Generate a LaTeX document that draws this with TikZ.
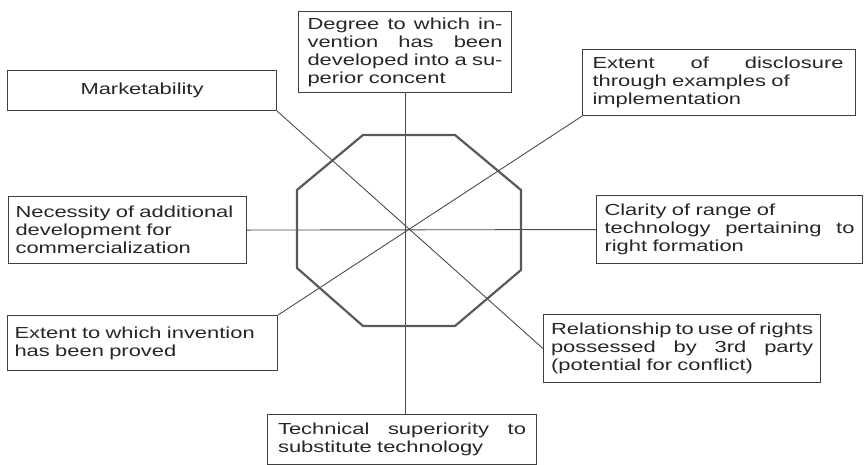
\documentclass[tikz,border=0pt]{standalone}
\usepackage{fontspec}
\newfontfamily\boxfont[FakeStretch=1.37]{Liberation Sans}
\newcommand\J[2]{\leavevmode\hbox to #1{#2}}
\begin{document}
\begin{tikzpicture}[x=1pt,y=-1pt,
  box/.style={draw=black!75, line width=1.1pt, anchor=north west, inner xsep=0pt, inner ysep=0pt,
    align=left, font=\boxfont\fontsize{16}{18}\selectfont, text=black!85},
  conn/.style={draw=black!70, line width=0.9pt},
  octo/.style={draw=black!65, line width=2.2pt, line join=round}]
\useasboundingbox (0,0) rectangle (865,464);
\node[box, minimum width=213pt, minimum height=81pt, text width=195pt] (deg) at (298,11)
  {\J{195pt}{Degree\hfill to\hfill which\hfill in-}\\\J{195pt}{vention\hfill has\hfill been}\\\J{195pt}{developed\hfill into\hfill a\hfill su-}\\perior concent};
\node[box, minimum width=273pt, minimum height=66pt, text width=253pt] (disc) at (582,49)
  {\J{251pt}{Extent\hfill of\hfill disclosure}\\through examples of\\implementation};
\node[box, minimum width=269pt, minimum height=40pt, align=center] (mkt) at (7,70) {Marketability};
\node[box, minimum width=238pt, minimum height=67pt, text width=224pt] (nec) at (8,196)
  {Necessity of additional\\development for\\commercialization};
\node[box, minimum width=266pt, minimum height=68pt, text width=250pt] (cla) at (596,195)
  {Clarity of range of\\\J{250pt}{technology\hfill pertaining\hfill to}\\right formation};
\node[box, minimum width=270pt, minimum height=55pt, text width=256pt] (ext) at (7,315)
  {Extent to which invention\\has been proved};
\node[box, minimum width=277pt, minimum height=68pt, text width=262pt] (rel) at (543,314)
  {\J{262pt}{Relationship\hfill to\hfill use\hfill of\hfill rights}\\\J{262pt}{possessed\hfill by\hfill 3rd\hfill party}\\(potential for conflict)};
\node[box, minimum width=269pt, minimum height=50pt, text width=248pt] (tech) at (267,414)
  {\J{248pt}{Technical\hfill superiority\hfill to}\\substitute technology};
\draw[conn] (deg.south) -- (tech.north -| deg.south);
\draw[conn] (nec.east) -- (cla.west);
\draw[conn] (mkt.south east) -- (rel.west);
\draw[conn] (ext.north east) -- (disc.south west);
\draw[octo] (363,135) -- (455,135) -- (521,190) -- (521,270) -- (455,326) -- (363,326) -- (297,268) -- (297,190) -- cycle;
\end{tikzpicture}
\end{document}
